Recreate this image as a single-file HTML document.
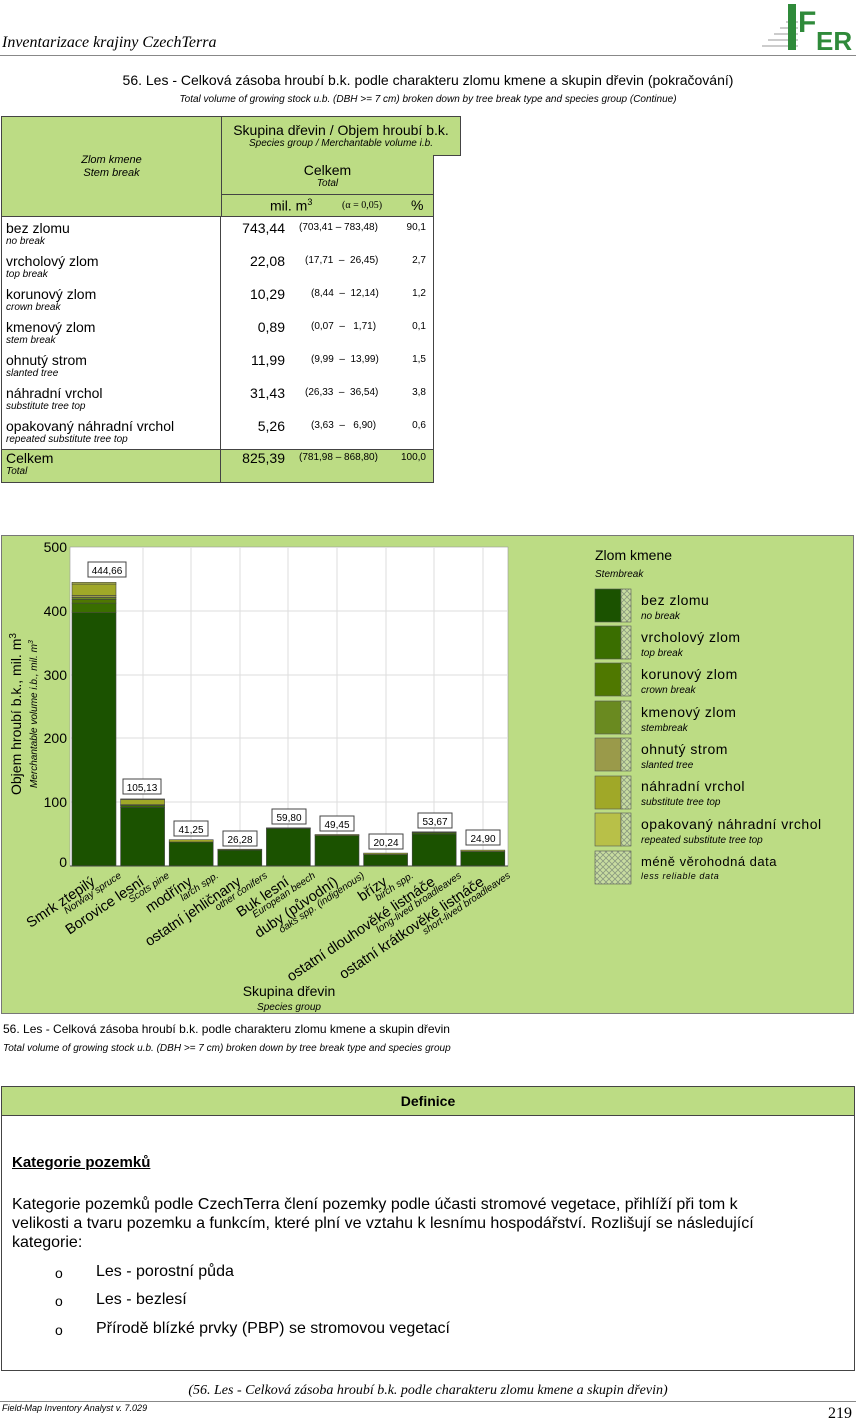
<!DOCTYPE html>
<html><head><meta charset="utf-8">
<style>
body{margin:0;width:856px;height:1422px;background:#fff;position:relative;font-family:"Liberation Sans",sans-serif;color:#000;overflow:hidden}
.a{position:absolute}
.g{background:#bcdc84}
.it{font-style:italic}
</style></head><body>
<div class="a" style="left:2px;top:34px;font-family:'Liberation Serif',serif;font-style:italic;font-size:16px">Inventarizace krajiny CzechTerra</div>
<div class="a" style="left:0;top:55px;width:856px;height:1px;background:#888"></div>
<svg class="a" style="left:758px;top:2px" width="94" height="50">
 <g stroke="#bbb" stroke-width="1.5"><line x1="4" y1="44" x2="40" y2="44"/><line x1="10" y1="38" x2="40" y2="38"/><line x1="16" y1="32" x2="40" y2="32"/><line x1="22" y1="26" x2="40" y2="26"/><line x1="28" y1="20" x2="40" y2="20"/></g>
 <rect x="30" y="2" width="8" height="46" fill="#2f8a3a"/>
 <text x="40" y="30" font-family="Liberation Sans" font-weight="bold" font-size="30" fill="#2f8a3a">F</text>
 <text x="58" y="48" font-family="Liberation Sans" font-weight="bold" font-size="26" fill="#2f8a3a">ER</text>
</svg>
<div class="a" style="left:0;top:72px;width:856px;text-align:center;font-size:14px">56. Les - Celková zásoba hroubí b.k. podle charakteru zlomu kmene a skupin dřevin (pokračování)</div>
<div class="a it" style="left:0;top:94px;width:856px;text-align:center;font-size:10px">Total volume of growing stock u.b. (DBH &gt;= 7 cm) broken down by tree break type and species group (Continue)</div>

<div class="a g" style="left:1px;top:116px;width:219px;height:99px;border:1px solid #444;text-align:center;font-size:11px;font-style:italic"><div style="margin-top:37px;line-height:13px">Zlom kmene<br>Stem break</div></div>
<div class="a g" style="left:221px;top:116px;width:238px;height:38px;border:1px solid #444;text-align:center"><div style="font-size:14px;margin-top:5px">Skupina dřevin / Objem hroubí b.k.</div><div class="it" style="font-size:10px">Species group / Merchantable volume i.b.</div></div>
<div class="a g" style="left:221px;top:155px;width:211px;height:39px;border:1px solid #444;border-top:none;text-align:center"><div style="font-size:14px;margin-top:7px">Celkem</div><div class="it" style="font-size:10px">Total</div></div>
<div class="a g" style="left:221px;top:195px;width:211px;height:21px;border:1px solid #444;border-top:none;font-size:14px"><span class="a" style="left:48px;top:2px">mil. m<sup style="font-size:9px">3</sup></span><span class="a" style="left:120px;top:5px;font-family:'Liberation Serif',serif;font-size:10px">(α = 0,05)</span><span class="a" style="left:189px;top:2px">%</span></div>
<div class="a" style="left:1px;top:216px;width:431px;height:233px;border-left:1px solid #444;border-right:1px solid #444"></div>
<div class="a" style="left:220px;top:216px;width:1px;height:265px;background:#444"></div>
<div class="a g" style="left:1px;top:449px;width:431px;height:32px;border:1px solid #444"></div>
<div class="a" style="left:220px;top:449px;width:1px;height:33px;background:#444"></div>
<div class="a" style="left:0;top:216px;width:440px;font-size:14px">
 <div style="position:relative;height:33px"><span class="a" style="left:6px;top:4px">bez zlomu</span><span class="a it" style="left:6px;top:20px;font-size:10px">no break</span><span class="a" style="right:155px;top:4px">743,44</span><span class="a" style="left:299px;top:6px;font-size:10px">(703,41 – 783,48)</span><span class="a" style="right:14px;top:6px;font-size:10px">90,1</span></div>
 <div style="position:relative;height:33px"><span class="a" style="left:6px;top:4px">vrcholový zlom</span><span class="a it" style="left:6px;top:20px;font-size:10px">top break</span><span class="a" style="right:155px;top:4px">22,08</span><span class="a" style="left:305px;top:6px;font-size:10px">(17,71 &nbsp;– &nbsp;26,45)</span><span class="a" style="right:14px;top:6px;font-size:10px">2,7</span></div>
 <div style="position:relative;height:33px"><span class="a" style="left:6px;top:4px">korunový zlom</span><span class="a it" style="left:6px;top:20px;font-size:10px">crown break</span><span class="a" style="right:155px;top:4px">10,29</span><span class="a" style="left:311px;top:6px;font-size:10px">(8,44 &nbsp;– &nbsp;12,14)</span><span class="a" style="right:14px;top:6px;font-size:10px">1,2</span></div>
 <div style="position:relative;height:33px"><span class="a" style="left:6px;top:4px">kmenový zlom</span><span class="a it" style="left:6px;top:20px;font-size:10px">stem break</span><span class="a" style="right:155px;top:4px">0,89</span><span class="a" style="left:311px;top:6px;font-size:10px">(0,07 &nbsp;– &nbsp;&nbsp;1,71)</span><span class="a" style="right:14px;top:6px;font-size:10px">0,1</span></div>
 <div style="position:relative;height:33px"><span class="a" style="left:6px;top:4px">ohnutý strom</span><span class="a it" style="left:6px;top:20px;font-size:10px">slanted tree</span><span class="a" style="right:155px;top:4px">11,99</span><span class="a" style="left:311px;top:6px;font-size:10px">(9,99 &nbsp;– &nbsp;13,99)</span><span class="a" style="right:14px;top:6px;font-size:10px">1,5</span></div>
 <div style="position:relative;height:33px"><span class="a" style="left:6px;top:4px">náhradní vrchol</span><span class="a it" style="left:6px;top:20px;font-size:10px">substitute tree top</span><span class="a" style="right:155px;top:4px">31,43</span><span class="a" style="left:305px;top:6px;font-size:10px">(26,33 &nbsp;– &nbsp;36,54)</span><span class="a" style="right:14px;top:6px;font-size:10px">3,8</span></div>
 <div style="position:relative;height:33px"><span class="a" style="left:6px;top:4px">opakovaný náhradní vrchol</span><span class="a it" style="left:6px;top:20px;font-size:10px">repeated substitute tree top</span><span class="a" style="right:155px;top:4px">5,26</span><span class="a" style="left:311px;top:6px;font-size:10px">(3,63 &nbsp;– &nbsp;&nbsp;6,90)</span><span class="a" style="right:14px;top:6px;font-size:10px">0,6</span></div>
 <div style="position:relative;height:33px"><span class="a" style="left:6px;top:3px">Celkem</span><span class="a it" style="left:6px;top:19px;font-size:10px">Total</span><span class="a" style="right:155px;top:3px">825,39</span><span class="a" style="left:299px;top:5px;font-size:10px">(781,98 – 868,80)</span><span class="a" style="right:14px;top:5px;font-size:10px">100,0</span></div>
</div>

<svg class="a" style="left:0;top:0" width="856" height="1422" font-family="Liberation Sans">
<defs><pattern id="x" width="6" height="6" patternUnits="userSpaceOnUse"><rect width="6" height="6" fill="#c8dca0"/><path d="M0 0L6 6M6 0L0 6" stroke="#8a9a80" stroke-width="0.8"/></pattern></defs>
<rect x="1.5" y="535.5" width="852" height="478" fill="#bcdc84" stroke="#777"/>
<rect x="70" y="547" width="438" height="319" fill="#fff" stroke="#999" stroke-width="0.6"/>
<g stroke="#ddd"><line x1="70" y1="611" x2="508" y2="611"/><line x1="70" y1="675" x2="508" y2="675"/><line x1="70" y1="738" x2="508" y2="738"/><line x1="70" y1="802" x2="508" y2="802"/>
<line x1="143" y1="547" x2="143" y2="866"/><line x1="191" y1="547" x2="191" y2="866"/><line x1="240" y1="547" x2="240" y2="866"/><line x1="288" y1="547" x2="288" y2="866"/><line x1="337" y1="547" x2="337" y2="866"/><line x1="386" y1="547" x2="386" y2="866"/><line x1="434" y1="547" x2="434" y2="866"/><line x1="483" y1="547" x2="483" y2="866"/></g>
<g font-size="14" text-anchor="end"><text x="67" y="552">500</text><text x="67" y="616">400</text><text x="67" y="680">300</text><text x="67" y="743">200</text><text x="67" y="807">100</text><text x="67" y="867">0</text></g>
<text transform="translate(21,795) rotate(-90)" font-size="14">Objem hroubí b.k., mil. m<tspan font-size="10" dy="-5">3</tspan></text>
<text transform="translate(37,788) rotate(-90)" font-size="10" font-style="italic">Merchantable volume i.b., mil. m<tspan font-size="7" dy="-4">3</tspan></text>
<g stroke="#444" stroke-width="0.6">
<rect x="72" y="612.7" width="44" height="253.3" fill="#1b5200"/>
<rect x="72" y="603.1" width="44" height="9.6" fill="#3a6e00"/>
<rect x="72" y="599.3" width="44" height="3.8" fill="#4f7800"/>
<rect x="72" y="597.4" width="44" height="1.9" fill="#6a8a20"/>
<rect x="72" y="595.5" width="44" height="1.9" fill="#9a9a4a"/>
<rect x="72" y="584" width="44" height="11.5" fill="#a0a828"/>
<rect x="72" y="582.3" width="44" height="1.7" fill="#b8c048"/>
<rect x="120.6" y="807.3" width="44" height="58.7" fill="#1b5200"/>
<rect x="120.6" y="805.4" width="44" height="1.9" fill="#3a6e00"/>
<rect x="120.6" y="804.7" width="44" height="0.7" fill="#4f7800"/>
<rect x="120.6" y="799.6" width="44" height="5.1" fill="#a0a828"/>
<rect x="120.6" y="798.9" width="44" height="0.7" fill="#b8c048"/>
<rect x="169.2" y="842" width="44" height="24" fill="#1b5200"/>
<rect x="169.2" y="839.7" width="44" height="2.3" fill="#a0a828"/>
<rect x="217.8" y="850" width="44" height="16" fill="#1b5200"/>
<rect x="217.8" y="849.2" width="44" height="0.8" fill="#a0a828"/>
<rect x="266.4" y="828.5" width="44" height="37.5" fill="#1b5200"/>
<rect x="266.4" y="827.8" width="44" height="0.7" fill="#3a6e00"/>
<rect x="315" y="835.5" width="44" height="30.5" fill="#1b5200"/>
<rect x="315" y="834.5" width="44" height="1" fill="#a0a828"/>
<rect x="363.6" y="854.5" width="44" height="11.5" fill="#1b5200"/>
<rect x="363.6" y="853.1" width="44" height="1.4" fill="#a0a828"/>
<rect x="412.2" y="834" width="44" height="32" fill="#1b5200"/>
<rect x="412.2" y="832.4" width="44" height="1.6" fill="#3a6e00"/>
<rect x="412.2" y="831.8" width="44" height="0.6" fill="#a0a828"/>
<rect x="460.8" y="851.5" width="44" height="14.5" fill="#1b5200"/>
<rect x="460.8" y="850.1" width="44" height="1.4" fill="#a0a828"/>
</g>
<line x1="70" y1="866" x2="508" y2="866" stroke="#444"/>
<g font-size="10" text-anchor="middle">
<rect x="88" y="562" width="38" height="15" fill="#fff" stroke="#444"/><text x="107" y="574">444,66</text>
<rect x="123" y="779" width="38" height="15" fill="#fff" stroke="#444"/><text x="142" y="791">105,13</text>
<rect x="174" y="821" width="34" height="15" fill="#fff" stroke="#444"/><text x="191" y="833">41,25</text>
<rect x="223" y="831" width="34" height="15" fill="#fff" stroke="#444"/><text x="240" y="843">26,28</text>
<rect x="272" y="809" width="34" height="15" fill="#fff" stroke="#444"/><text x="289" y="821">59,80</text>
<rect x="320" y="816" width="34" height="15" fill="#fff" stroke="#444"/><text x="337" y="828">49,45</text>
<rect x="369" y="834" width="34" height="15" fill="#fff" stroke="#444"/><text x="386" y="846">20,24</text>
<rect x="418" y="813" width="34" height="15" fill="#fff" stroke="#444"/><text x="435" y="825">53,67</text>
<rect x="466" y="830" width="34" height="15" fill="#fff" stroke="#444"/><text x="483" y="842">24,90</text>
</g>
<g text-anchor="end">
<g font-size="14.5">
<text transform="translate(96,884) rotate(-34)">Smrk ztepilý</text>
<text transform="translate(145,884) rotate(-34)">Borovice lesní</text>
<text transform="translate(193,884) rotate(-34)">modříny</text>
<text transform="translate(242,884) rotate(-34)">ostatní jehličnany</text>
<text transform="translate(290,884) rotate(-34)">Buk lesní</text>
<text transform="translate(339,884) rotate(-34)">duby (původní)</text>
<text transform="translate(388,884) rotate(-34)">břízy</text>
<text transform="translate(436,884) rotate(-34)">ostatní dlouhověké listnáče</text>
<text transform="translate(485,884) rotate(-34)">ostatní krátkověké listnáče</text>
</g>
<g font-size="10" font-style="italic">
<text transform="translate(122,877) rotate(-34)">Norway spruce</text>
<text transform="translate(170,877) rotate(-34)">Scots pine</text>
<text transform="translate(219,877) rotate(-34)">larch spp.</text>
<text transform="translate(268,877) rotate(-34)">other conifers</text>
<text transform="translate(316,877) rotate(-34)">European beech</text>
<text transform="translate(365,877) rotate(-34)">oaks spp. (indigenous)</text>
<text transform="translate(414,877) rotate(-34)">birch spp.</text>
<text transform="translate(462,877) rotate(-34)">long-lived broadleaves</text>
<text transform="translate(511,877) rotate(-34)">short-lived broadleaves</text>
</g></g>
<text x="289" y="996" font-size="14" text-anchor="middle">Skupina dřevin</text>
<text x="289" y="1010" font-size="10" font-style="italic" text-anchor="middle">Species group</text>
<text x="595" y="560" font-size="14">Zlom kmene</text>
<text x="595" y="577" font-size="10" font-style="italic">Stembreak</text>
<g stroke="#555" stroke-width="0.6">
<rect x="595" y="589" width="26" height="33" fill="#1b5200"/><rect x="621" y="589" width="10" height="33" fill="url(#x)"/>
<rect x="595" y="626" width="26" height="33" fill="#3a6e00"/><rect x="621" y="626" width="10" height="33" fill="url(#x)"/>
<rect x="595" y="663" width="26" height="33" fill="#4f7800"/><rect x="621" y="663" width="10" height="33" fill="url(#x)"/>
<rect x="595" y="701" width="26" height="33" fill="#6a8a20"/><rect x="621" y="701" width="10" height="33" fill="url(#x)"/>
<rect x="595" y="738" width="26" height="33" fill="#9a9a4a"/><rect x="621" y="738" width="10" height="33" fill="url(#x)"/>
<rect x="595" y="776" width="26" height="33" fill="#a0a828"/><rect x="621" y="776" width="10" height="33" fill="url(#x)"/>
<rect x="595" y="813" width="26" height="33" fill="#b8c048"/><rect x="621" y="813" width="10" height="33" fill="url(#x)"/>
<rect x="595" y="851" width="36" height="33" fill="url(#x)"/>
</g>
<g font-size="14" letter-spacing="0.5"><text x="641" y="605">bez zlomu</text><text x="641" y="642">vrcholový zlom</text><text x="641" y="679">korunový zlom</text><text x="641" y="717">kmenový zlom</text><text x="641" y="754">ohnutý strom</text><text x="641" y="791">náhradní vrchol</text><text x="641" y="829">opakovaný náhradní vrchol</text><text x="641" y="866" font-size="13">méně věrohodná data</text></g>
<g font-size="10" font-style="italic"><text x="641" y="619">no break</text><text x="641" y="656">top break</text><text x="641" y="693">crown break</text><text x="641" y="731">stembreak</text><text x="641" y="768">slanted tree</text><text x="641" y="805">substitute tree top</text><text x="641" y="843">repeated substitute tree top</text><text x="641" y="879" font-size="9" letter-spacing="0.6">less reliable data</text></g>
</svg>
<div class="a" style="left:3px;top:1022px;font-size:12px">56. Les - Celková zásoba hroubí b.k. podle charakteru zlomu kmene a skupin dřevin</div>
<div class="a it" style="left:3px;top:1043px;font-size:10px">Total volume of growing stock u.b. (DBH &gt;= 7 cm) broken down by tree break type and species group</div>

<div class="a" style="left:1px;top:1086px;width:852px;height:283px;border:1px solid #444"></div>
<div class="a g" style="left:1px;top:1086px;width:852px;height:28px;border:1px solid #444;text-align:center;font-weight:bold;font-size:14px;line-height:28px">Definice</div>
<div class="a" style="left:12px;top:1154px;font-size:15px;font-weight:bold;text-decoration:underline">Kategorie pozemků</div>
<div class="a" style="left:12px;top:1195px;width:840px;font-size:16px;line-height:19px;white-space:nowrap">Kategorie pozemků podle CzechTerra člení pozemky podle účasti stromové vegetace, přihlíží při tom k<br>velikosti a tvaru pozemku a funkcím, které plní ve vztahu k lesnímu hospodářství. Rozlišují se následující<br>kategorie:</div>
<div class="a" style="left:55px;top:1265px;font-size:14px">o</div><div class="a" style="left:96px;top:1263px;font-size:16px">Les - porostní půda</div>
<div class="a" style="left:55px;top:1293px;font-size:14px">o</div><div class="a" style="left:96px;top:1291px;font-size:16px">Les - bezlesí</div>
<div class="a" style="left:55px;top:1322px;font-size:14px">o</div><div class="a" style="left:96px;top:1320px;font-size:16px">Přírodě blízké prvky (PBP) se stromovou vegetací</div>
<div class="a it" style="left:0;top:1383px;width:856px;text-align:center;font-family:'Liberation Serif',serif;font-size:14px">(56. Les - Celková zásoba hroubí b.k. podle charakteru zlomu kmene a skupin dřevin)</div>
<div class="a" style="left:0;top:1401px;width:856px;height:1px;background:#888"></div>
<div class="a it" style="left:2px;top:1403px;font-size:9px">Field-Map Inventory Analyst v. 7.029</div>
<div class="a" style="right:4px;top:1405px;font-family:'Liberation Serif',serif;font-size:16px">219</div>
</body></html>
